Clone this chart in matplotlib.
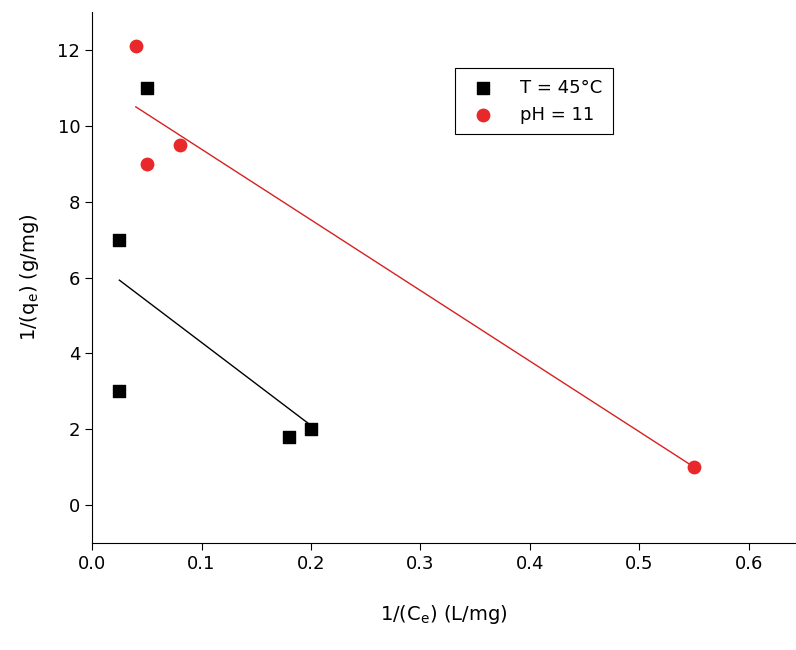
import matplotlib
matplotlib.use("Agg")
import matplotlib.pyplot as plt

t_x = [0.025, 0.025, 0.05, 0.18, 0.2]
t_y = [3.0, 7.0, 11.0, 1.8, 2.0]
ph_x = [0.04, 0.05, 0.08, 0.55]
ph_y = [12.1, 9.0, 9.5, 1.0]
t_fit_x = [0.025, 0.2]
t_fit_y = [5.93, 2.1]
ph_fit_x = [0.04, 0.55]
ph_fit_y = [10.5, 1.0]

fig = plt.figure(figsize=(7.96, 6.5), dpi=100)
ax = fig.add_axes([0.1156, 0.1646, 0.8844, 0.8169])
ax.plot(t_fit_x, t_fit_y, color="black", lw=1)
ax.plot(ph_fit_x, ph_fit_y, color="#d62020", lw=1)
ax.scatter(t_x, t_y, marker="s", s=70, color="black", label="T = 45°C", zorder=3)
ax.scatter(ph_x, ph_y, marker="o", s=80, color="#e8282a", label="pH = 11", zorder=3)
ax.set_xlim(0, 0.643)
ax.set_ylim(-1, 13)
ax.set_xticks([0, 0.1, 0.2, 0.3, 0.4, 0.5, 0.6])
ax.set_yticks([0, 2, 4, 6, 8, 10, 12])
ax.spines["top"].set_visible(False)
ax.spines["right"].set_visible(False)
ax.tick_params(labelsize=13, direction="out", length=5)
ax.set_xlabel("1/(C$\\mathregular{_e}$) (L/mg)", fontsize=14, labelpad=22)
ax.set_ylabel("1/(q$\\mathregular{_e}$) (g/mg)", fontsize=14, labelpad=12)
leg = ax.legend(loc="upper left", bbox_to_anchor=(0.515, 0.895), fontsize=13,
                fancybox=False, edgecolor="black", framealpha=1, handletextpad=1.0,
                borderpad=0.6, borderaxespad=0)
leg.get_frame().set_linewidth(0.8)
fig.savefig("out.png")
